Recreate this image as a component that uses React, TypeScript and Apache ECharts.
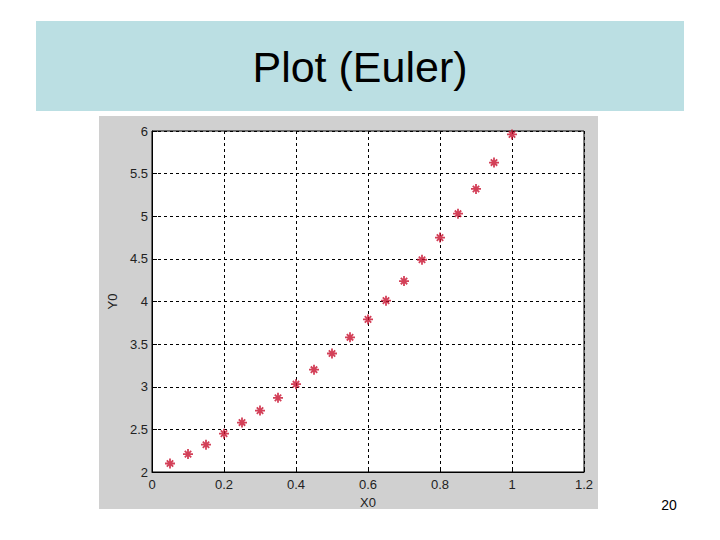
import React, { useEffect, useRef } from "react";
import * as echarts from "echarts";

const xValues = [0.05, 0.1, 0.15, 0.2, 0.25, 0.3, 0.35, 0.4, 0.45, 0.5, 0.55, 0.6, 0.65, 0.7, 0.75, 0.8, 0.85, 0.9, 0.95, 1.0];
const yValues = [2.1, 2.21, 2.32, 2.45, 2.58, 2.72, 2.87, 3.03, 3.2, 3.39, 3.58, 3.79, 4.01, 4.24, 4.49, 4.75, 5.03, 5.32, 5.63, 5.96];
const titleText = "Plot (Euler)";
const xName = "X0";
const yName = "Y0";
const pageNumber = "20";

const asterisk = "path://M5 0L5 10M0 5L10 5M1.8 1.8L8.2 8.2M8.2 1.8L1.8 8.2";

export default function App() {
  const ref = useRef<HTMLDivElement>(null);
  useEffect(() => {
    if (!ref.current) return;
    const chart = echarts.init(ref.current, null, { renderer: "svg" });
    const font = "Arial, 'Liberation Sans', sans-serif";
    chart.setOption({
      animation: false,
      backgroundColor: "#ffffff",
      graphic: [
        { type: "rect", z: -10, shape: { x: 36, y: 21, width: 648, height: 90 }, style: { fill: "#bbdfe3" } },
        { type: "rect", z: -10, shape: { x: 99, y: 116, width: 499, height: 393 }, style: { fill: "#d0d0d0" } },
        {
          type: "text", z: 10, x: 360, y: 67,
          style: { text: titleText, fill: "#000", font: `43px ${font}`, align: "center", verticalAlign: "middle" },
        },
        {
          type: "text", z: 10, x: 669, y: 505,
          style: { text: pageNumber, fill: "#000", font: `14px ${font}`, align: "center", verticalAlign: "middle" },
        },
      ],
      grid: {
        left: 152, top: 131, width: 432, height: 341,
        show: true, backgroundColor: "#ffffff", borderColor: "#000", borderWidth: 1,
      },
      xAxis: {
        type: "value", min: 0, max: 1.2, interval: 0.2,
        name: xName, nameLocation: "middle", nameGap: 22,
        nameTextStyle: { color: "#222", fontSize: 13, fontFamily: font },
        axisLine: { show: true, onZero: false, lineStyle: { color: "#000", width: 1 } },
        axisTick: { show: true, inside: true, length: 5, lineStyle: { color: "#000" } },
        axisLabel: {
          color: "#222", fontSize: 13, fontFamily: font, margin: 6,
          formatter: (v: number) => String(Math.round(v * 10) / 10),
        },
        splitLine: { show: true, lineStyle: { color: "#000", type: [3, 3], width: 1 } },
      },
      yAxis: {
        type: "value", min: 2, max: 6, interval: 0.5,
        name: yName, nameLocation: "middle", nameGap: 33,
        nameTextStyle: { color: "#222", fontSize: 13, fontFamily: font },
        axisLine: { show: true, onZero: false, lineStyle: { color: "#000", width: 1 } },
        axisTick: { show: true, inside: true, length: 5, lineStyle: { color: "#000" } },
        axisLabel: { color: "#222", fontSize: 13, fontFamily: font, margin: 4 },
        splitLine: { show: true, lineStyle: { color: "#000", type: [3, 3], width: 1 } },
      },
      series: [
        {
          type: "scatter",
          data: xValues.map((x, i) => [x, yValues[i]]),
          symbol: asterisk,
          symbolSize: 10,
          itemStyle: { color: "rgba(0,0,0,0)", borderColor: "#c8102e", borderWidth: 1.8 },
          emphasis: { disabled: true },
          z: 5,
        },
      ],
    });
    return () => chart.dispose();
  }, []);
  return <div ref={ref} style={{ position: "fixed", left: 0, top: 0, width: 720, height: 540 }} />;
}
